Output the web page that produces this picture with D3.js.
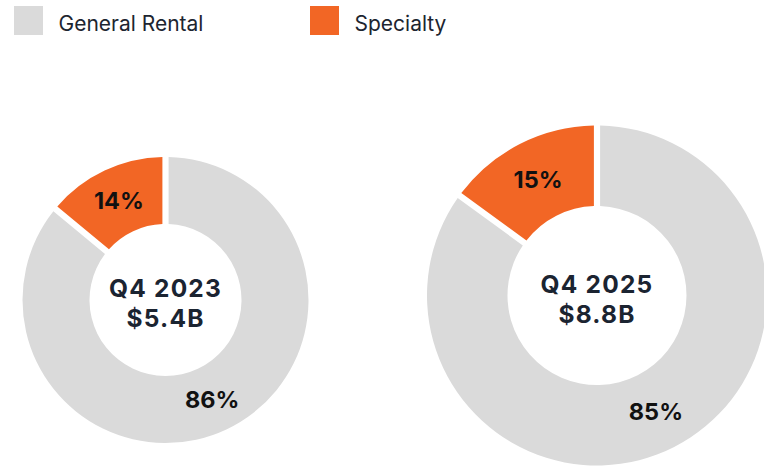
<!DOCTYPE html>
<html>
<head>
<meta charset="utf-8">
<script src="https://cdn.jsdelivr.net/npm/d3@7"></script>
<style>
  html, body { margin: 0; padding: 0; background: #fff; }
  svg { display: block; font-family: Inter, "Noto Sans", sans-serif; }
</style>
</head>
<body>
<svg id="chart" width="764" height="468"></svg>
<script>
// Revenue mix by segment
const segments = ["General Rental", "Specialty"];
const periods = ["Q4 2023", "Q4 2025"];
const totals = ["$5.4B", "$8.8B"];
const generalRental = [86, 85];
const specialty = [14, 15];

const colors = d3.scaleOrdinal().domain(segments).range(["#dadada", "#f26625"]);

const svg = d3.select("#chart");

// Legend
const legend = svg.append("g");
const legendX = [14, 310];
segments.forEach((s, i) => {
  const g = legend.append("g").attr("transform", `translate(${legendX[i]},6)`);
  g.append("rect").attr("width", 29).attr("height", 29).attr("fill", colors(s));
  g.append("text").attr("x", 44.5).attr("y", 25)
    .attr("font-size", 21).attr("fill", "#1d2530").text(s);
});

// Donut layout per period
const layout = [
  { cx: 165.5, cy: 300, outer: 143, inner: 76 },
  { cx: 597, cy: 295.5, outer: 170, inner: 89.5 }
];

const pie = d3.pie().sort(null).value(d => d.value);

periods.forEach((p, i) => {
  const L = layout[i];
  const data = [
    { key: segments[0], value: generalRental[i] },
    { key: segments[1], value: specialty[i] }
  ];
  const arcs = pie(data);
  const arc = d3.arc().innerRadius(L.inner).outerRadius(L.outer)
    .padRadius(L.outer).padAngle(6.2 / L.outer);
  const labelArc = d3.arc().innerRadius(L.inner).outerRadius(L.outer);

  const g = svg.append("g").attr("transform", `translate(${L.cx},${L.cy})`);
  g.selectAll("path").data(arcs).join("path")
    .attr("d", arc).attr("fill", d => colors(d.data.key));

  g.selectAll("text.pct").data(arcs).join("text")
    .attr("class", "pct")
    .attr("transform", d => `translate(${labelArc.centroid(d)})`)
    .attr("text-anchor", "middle").attr("dy", "0.36em")
    .attr("font-size", 23.5).attr("font-weight", 700).attr("fill", "#111")
    .text(d => d.data.value + "%");

  // Two-line center label: period and total revenue
  const center = g.append("text").attr("text-anchor", "middle")
    .attr("font-size", 24.5).attr("font-weight", 700).attr("fill", "#1b2431")
    .attr("letter-spacing", 1.2);
  center.append("tspan").attr("x", 0).attr("y", -3).text(p);
  center.append("tspan").attr("x", 0).attr("y", 27).text(totals[i]);
});
</script>
</body>
</html>
